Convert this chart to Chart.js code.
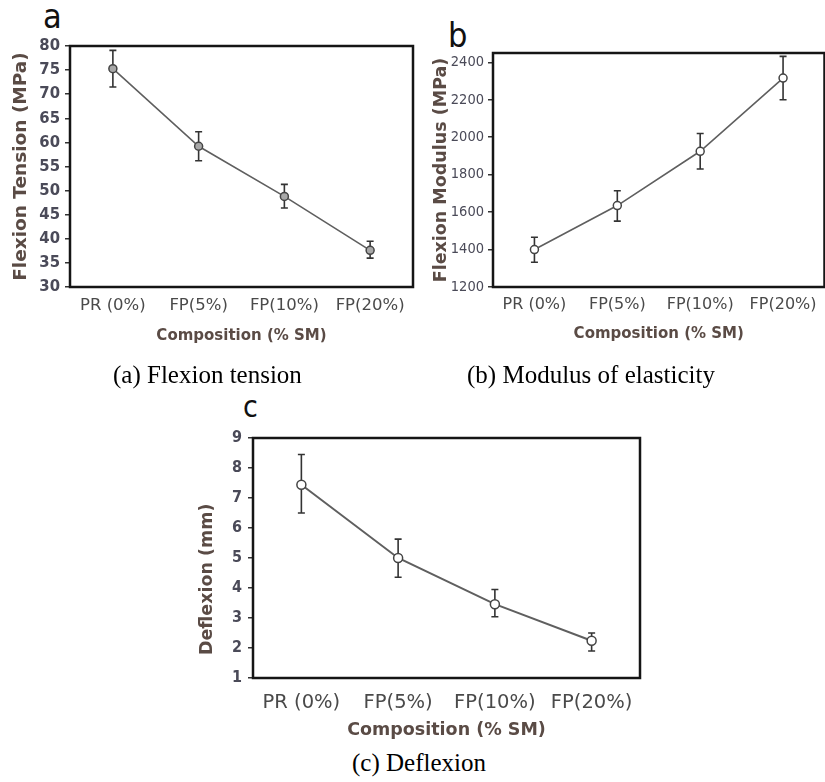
<!DOCTYPE html>
<html>
<head>
<meta charset="utf-8">
<script src="https://cdn.jsdelivr.net/npm/chart.js@4"></script>
<style>
  html, body { margin: 0; padding: 0; background: #fff; }
  body { width: 825px; height: 782px; position: relative; overflow: hidden; }
  canvas { position: absolute; }
  .letter { position: absolute; font-family: "Liberation Sans Narrow", "DejaVu Sans Condensed", "Liberation Sans", sans-serif; color: #111; line-height: 1; }
  .caption { position: absolute; font-family: "Liberation Serif", serif; font-size: 25px; color: #000; line-height: 1; white-space: nowrap; }
</style>
</head>
<body>
<div class="letter" style="left:43px; top:-1px; font-size:34px;">a</div>
<div class="letter" style="left:448px; top:18px; font-size:34px;">b</div>
<div class="letter" style="left:243px; top:392px; font-size:30px;">c</div>

<canvas id="chartA" width="420" height="350" style="left:0; top:0;"></canvas>
<canvas id="chartB" width="410" height="350" style="left:420px; top:0;"></canvas>
<canvas id="chartC" width="480" height="365" style="left:180px; top:380px;"></canvas>

<div class="caption" style="left:113px; top:362px;">(a) Flexion tension</div>
<div class="caption" style="left:467px; top:362px;">(b) Modulus of elasticity</div>
<div class="caption" style="left:352px; top:750px;">(c) Deflexion</div>

<script>
const categories = ['PR (0%)', 'FP(5%)', 'FP(10%)', 'FP(20%)'];

const tension = [75.3, 59.2, 48.8, 37.6];
const tensionLow = [71.5, 56.2, 46.4, 36.0];
const tensionHigh = [79.1, 62.2, 51.3, 39.5];

const modulus = [1400, 1635, 1925, 2316];
const modulusLow = [1332, 1552, 1830, 2200];
const modulusHigh = [1466, 1714, 2020, 2432];

const deflexion = [7.44, 5.0, 3.46, 2.24];
const deflexionLow = [6.5, 4.36, 3.04, 1.9];
const deflexionHigh = [8.45, 5.63, 3.95, 2.5];

const tickFont = '"Liberation Sans Narrow", "DejaVu Sans Condensed", "Arial Narrow", sans-serif';

// error bars from low/high arrays, drawn under the markers
const errorBars = {
  id: 'errorBars',
  beforeDatasetsDraw(chart, args, opts) {
    const { ctx, scales: { x, y } } = chart;
    ctx.save();
    ctx.strokeStyle = opts.color || '#333';
    ctx.lineWidth = opts.width || 1.6;
    opts.low.forEach((lo, i) => {
      const px = x.getPixelForValue(i);
      const y1 = y.getPixelForValue(lo);
      const y2 = y.getPixelForValue(opts.high[i]);
      const cap = opts.cap || 3;
      ctx.beginPath();
      ctx.moveTo(px, y1); ctx.lineTo(px, y2);
      ctx.moveTo(px - cap, y1); ctx.lineTo(px + cap, y1);
      ctx.moveTo(px - cap, y2); ctx.lineTo(px + cap, y2);
      ctx.stroke();
    });
    ctx.restore();
  }
};

// black box round the plot area
const frame = {
  id: 'frame',
  afterDraw(chart) {
    const { ctx, chartArea: a } = chart;
    ctx.save();
    ctx.strokeStyle = '#151515';
    ctx.lineWidth = 2.5;
    ctx.strokeRect(a.left, a.top, a.right - a.left, a.bottom - a.top);
    ctx.restore();
  }
};

function makeChart(id, cfg) {
  return new Chart(document.getElementById(id), {
    type: 'line',
    data: {
      labels: categories,
      datasets: [{
        data: cfg.values,
        borderColor: '#5f5f5f',
        borderWidth: cfg.lineWidth,
        pointRadius: cfg.pointRadius,
        pointBackgroundColor: cfg.pointFill,
        pointBorderColor: '#444',
        pointBorderWidth: 1.5,
        tension: 0
      }]
    },
    options: {
      responsive: false,
      animation: false,
      layout: { padding: cfg.padding },
      plugins: {
        legend: { display: false },
        tooltip: { enabled: false },
        errorBars: { low: cfg.low, high: cfg.high, cap: 3.5, width: 1.6, color: '#333' }
      },
      scales: {
        x: {
          type: 'category',
          offset: true,
          afterFit: s => { s.height = cfg.xHeight; },
          grid: { display: false, drawTicks: false },
          border: { display: false },
          ticks: {
            padding: cfg.xTickPad,
            maxRotation: 0,
            autoSkip: false,
            color: '#4a4a4a',
            font: { family: 'DejaVu Sans', size: cfg.xTickSize }
          },
          title: {
            display: true,
            text: 'Composition (% SM)',
            color: '#5a4b45',
            padding: { top: 0, bottom: cfg.xTitlePad },
            font: { family: 'DejaVu Sans', weight: 'bold', size: cfg.xTitleSize }
          }
        },
        y: {
          min: cfg.min,
          max: cfg.max,
          afterFit: s => { s.width = cfg.yWidth; },
          grid: { drawOnChartArea: false, drawTicks: true, tickLength: 5, color: '#333', lineWidth: 1.5 },
          border: { display: false },
          ticks: {
            stepSize: cfg.step,
            includeBounds: false,
            padding: cfg.yTickPad,
            color: '#4a4a58',
            font: { family: tickFont, weight: cfg.yTickWeight, size: cfg.yTickSize },
            callback: v => (v % cfg.labelEvery === 0 ? v : '')
          },
          title: {
            display: true,
            text: cfg.yTitle,
            color: '#5a4b45',
            padding: { top: cfg.yTitlePad, bottom: 0 },
            font: { family: 'DejaVu Sans', weight: 'bold', size: cfg.yTitleSize }
          }
        }
      }
    },
    plugins: [errorBars, frame]
  });
}

makeChart('chartA', {
  values: tension, low: tensionLow, high: tensionHigh,
  min: 30, max: 80, step: 5, labelEvery: 5,
  yTitle: 'Flexion Tension (MPa)', yTitleSize: 18.5,
  padding: { top: 46, right: 7, left: 0, bottom: 0 },
  yWidth: 70, xHeight: 63,
  xTickPad: 9, xTickSize: 16.5, xTitleSize: 15, xTitlePad: 5,
  yTickSize: 16.5, yTickWeight: 'bold', yTickPad: 5, yTitlePad: 10,
  lineWidth: 1.6, pointRadius: 4, pointFill: '#a8a8a8'
});

makeChart('chartB', {
  values: modulus, low: modulusLow, high: modulusHigh,
  min: 1200, max: 2450, step: 100, labelEvery: 200,
  yTitle: 'Flexion Modulus (MPa)', yTitleSize: 17.5,
  padding: { top: 53, right: 4, left: 0, bottom: 0 },
  yWidth: 73, xHeight: 63,
  xTickPad: 8, xTickSize: 16, xTitleSize: 15, xTitlePad: 7,
  yTickSize: 14.5, yTickWeight: 'normal', yTickPad: 4, yTitlePad: 11,
  lineWidth: 1.6, pointRadius: 4, pointFill: '#ffffff'
});

makeChart('chartC', {
  values: deflexion, low: deflexionLow, high: deflexionHigh,
  min: 1, max: 9, step: 0.5, labelEvery: 1,
  yTitle: 'Deflexion (mm)       ', yTitleSize: 17.5,
  padding: { top: 58, right: 20, left: 0, bottom: 0 },
  yWidth: 73, xHeight: 67,
  xTickPad: 13, xTickSize: 19.5, xTitleSize: 17.5, xTitlePad: 4,
  yTickSize: 16, yTickWeight: 'bold', yTickPad: 6, yTitlePad: 17,
  lineWidth: 2, pointRadius: 4.5, pointFill: '#ffffff'
});
</script>
</body>
</html>
